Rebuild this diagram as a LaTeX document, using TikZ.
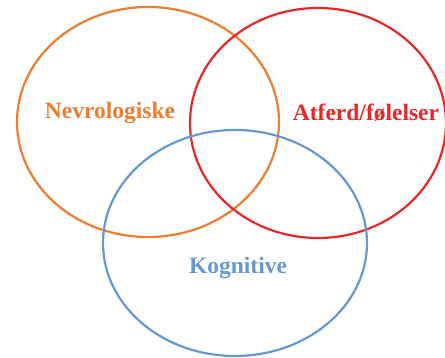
\documentclass[tikz,border=0pt]{standalone}
\usepackage{fontspec}
\setmainfont{Liberation Serif}
\usepackage{tikz}
\usetikzlibrary{positioning}

\definecolor{neuroorange}{RGB}{237,125,49}
\definecolor{behavred}{RGB}{232,40,40}
\definecolor{cogblue}{RGB}{101,153,210}

\begin{document}
\begin{tikzpicture}[x=1pt, y=1pt,
  ring/.style={line width=2.2pt},
  lbl/.style={font=\bfseries\fontsize{23.5}{26}\selectfont, inner sep=0pt}]
  \useasboundingbox (0,0) rectangle (445,358);
  % the three circles
  \draw[ring, neuroorange] (148,236) ellipse [x radius=131, y radius=115];
  \draw[ring, behavred] (318,235) ellipse [x radius=128, y radius=115];
  \draw[ring, cogblue] (235,115) ellipse [x radius=132, y radius=113];
  % labels
  \node[lbl, text=neuroorange] (nevro) at (110,245) {Nevrologiske};
  \node[lbl, text=behavred] (atferd) at (366,245) {Atferd/følelser};
  \node[lbl, text=cogblue] (kogn) at (238,90) {Kognitive};
\end{tikzpicture}
\end{document}
